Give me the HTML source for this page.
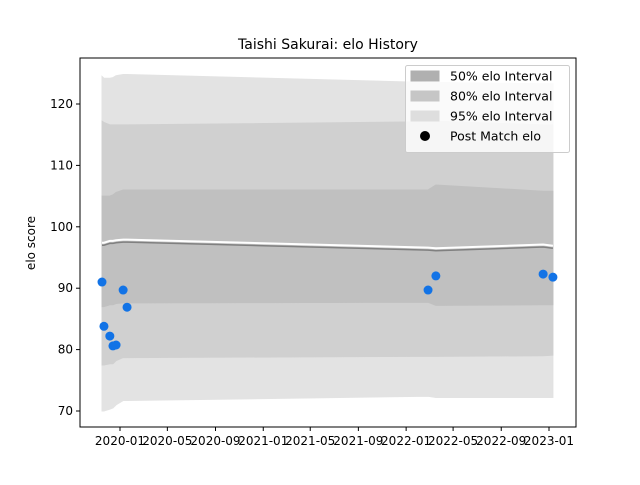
<!DOCTYPE html>
<html><head><meta charset="utf-8"><style>
body{margin:0;background:#fff;}
svg text{font-family:"DejaVu Sans","Liberation Sans",sans-serif;}
</style></head><body>
<svg id="chart" width="640" height="480" xmlns="http://www.w3.org/2000/svg">
<rect width="640" height="480" fill="#fff"/>
<text x="328" y="49" text-anchor="middle" font-size="14">Taishi Sakurai: elo History</text>
<g id="plot"></g>
</svg>
<script>
const dates=["2019-11-16","2019-11-21","2019-12-06","2019-12-14","2019-12-22","2020-01-09","2020-01-19","2022-02-26","2022-03-18","2022-12-17","2023-01-11"];
const postElo=[91.0,83.8,82.2,80.6,80.75,89.7,86.9,89.7,92.0,92.3,91.8];
const meanElo=[97,97,97.3,97.3,97.4,97.5,97.5,96.2,96.1,96.7,96.5];
const lo50=[87,87,87.3,87.3,87.5,87.6,87.6,87.7,87.2,87.3,87.3];
const hi50=[105,105,105,105.2,105.6,106,106,106,106.8,105.8,105.8];
const lo80=[77.5,77.5,77.7,77.7,78.2,78.7,78.7,78.9,78.9,79,79.1];
const hi80=[117.2,117,116.6,116.6,116.6,116.6,116.6,117.1,117.2,116.6,116.6];
const lo95=[70,70,70.3,70.5,71,71.7,71.7,72.4,72.2,72.2,72.2];
const hi95=[124.5,124.2,124.2,124.3,124.6,124.8,124.8,123.5,123.5,123.3,123.3];
const yTicks=[70,80,90,100,110,120];
const xTicks=["2020-01","2020-05","2020-09","2021-01","2021-05","2021-09","2022-01","2022-05","2022-09","2023-01"];

const NS="http://www.w3.org/2000/svg";
const L=80,R=576,T=58,B=427;
const t0=Date.UTC(2020,0,1), t1=Date.UTC(2023,0,1);
function xs(d){const p=d.split("-");const t=Date.UTC(+p[0],+p[1]-1,p[2]?+p[2]:1);return 120+(t-t0)/(t1-t0)*429;}
function ys(v){return 104+(120-v)*6.14;}
const g=document.getElementById("plot");
function mk(tag,attrs,parent){const e=document.createElementNS(NS,tag);for(const k in attrs)e.setAttribute(k,attrs[k]);(parent||g).appendChild(e);return e;}
function band(lo,hi,fill,name){
  let d="M"+dates.map((dt,i)=>xs(dt)+","+ys(hi[i])).join("L");
  d+="L"+dates.map((dt,i)=>xs(dt)+","+ys(lo[i])).reverse().join("L")+"Z";
  const p=mk("path",{d:d,fill:fill,stroke:fill});
  
  
}
band(lo95,hi95,"#e3e3e3","band-95");
band(lo80,hi80,"#d0d0d0","band-80");
band(lo50,hi50,"#c0c0c0","band-50");
const wl=mk("polyline",{points:dates.map((dt,i)=>xs(dt)+","+(ys(meanElo[i])-2.5)).join(" "),fill:"none",stroke:"#fff","stroke-width":2});


const ml=mk("polyline",{points:dates.map((dt,i)=>xs(dt)+","+ys(meanElo[i])).join(" "),fill:"none",stroke:"#808080","stroke-width":1.5});


postElo.forEach((v,i)=>{
  const c=mk("circle",{cx:xs(dates[i]),cy:ys(v),r:4.5,fill:"#1273e6"});
  
  
});
const frame=mk("rect",{x:L,y:T,width:R-L,height:B-T,fill:"none",stroke:"#000","stroke-width":1});


yTicks.forEach(v=>{
  const y=ys(v);
  mk("line",{x1:L-4,x2:L,y1:y,y2:y,stroke:"#000"});
  const t=mk("text",{x:L-7,y:y+4,"text-anchor":"end","font-size":12});
  t.textContent=v;
  
  
});
xTicks.forEach(s=>{
  const x=xs(s);
  mk("line",{x1:x,x2:x,y1:B,y2:B+4,stroke:"#000"});
  const t=mk("text",{x:x,y:B+18,"text-anchor":"middle","font-size":12});
  t.textContent=s;
  
  
});
const yt=mk("text",{x:35,y:243,"text-anchor":"middle","font-size":12,transform:"rotate(-90 35 243)"});
yt.textContent="elo score";


// legend
const lg=mk("g",{});


mk("rect",{x:405.5,y:65.5,width:164,height:87,rx:2,fill:"#fff","fill-opacity":0.8,stroke:"#ccc"},lg);
const items=[["50% elo Interval","#b0b0b0"],["80% elo Interval","#c6c6c6"],["95% elo Interval","#dedede"],["Post Match elo",null]];
items.forEach((it,i)=>{
  const y=76+i*20;
  if(it[1]) mk("rect",{x:411,y:y-5,width:28,height:10,fill:it[1],stroke:it[1]},lg);
  else mk("circle",{cx:425,cy:y,r:5,fill:"#000"},lg);
  const t=mk("text",{x:450,y:y+4.5,"font-size":12.5},lg);
  t.textContent=it[0];
  
  
});
</script>
</body></html>
